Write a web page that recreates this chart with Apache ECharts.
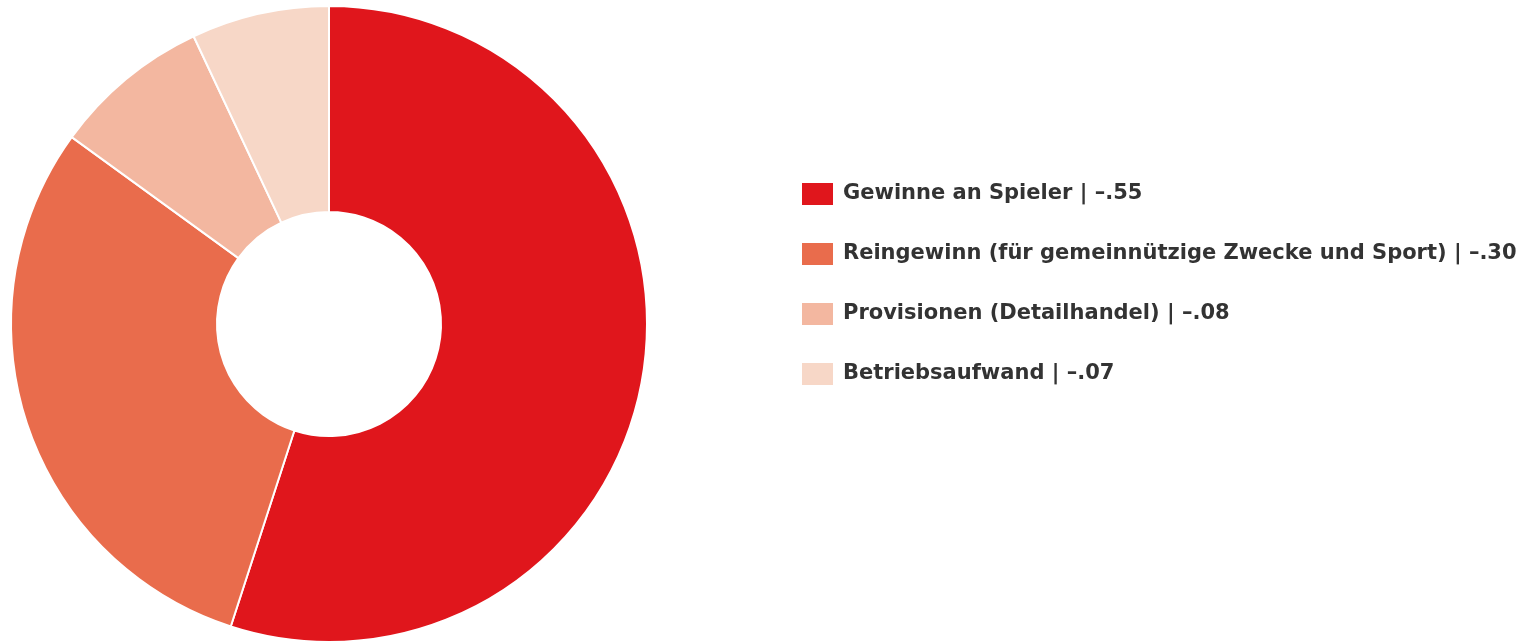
<!DOCTYPE html>
<html>
<head>
<meta charset="utf-8">
<script src="https://cdn.jsdelivr.net/npm/echarts@6/dist/echarts.min.js"></script>
<style>
  html, body { margin: 0; padding: 0; background: #fff; }
  #chart { width: 1538px; height: 643px; }
</style>
</head>
<body>
<div id="chart"></div>
<script>
// chart data
var names = ['Gewinne an Spieler', 'Reingewinn (für gemeinnützige Zwecke und Sport)', 'Provisionen (Detailhandel)', 'Betriebsaufwand'];
var values = [0.55, 0.30, 0.08, 0.07];
var valueLabels = ['–.55', '–.30', '–.08', '–.07'];
var colors = ['#e0161c', '#e96c4c', '#f3b7a0', '#f7d7c7'];

var pieData = [];
for (var i = 0; i < names.length; i++) {
    pieData.push({ name: names[i], value: values[i] });
}

var myChart = echarts.init(document.getElementById('chart'));
var option = {
    animation: false,
    color: colors,
    legend: {
        show: true,
        orient: 'vertical',
        left: 800,
        top: 181,
        padding: 0,
        icon: 'rect',
        itemWidth: 33,
        itemHeight: 24,
        itemGap: 34,
        selectedMode: false,
        data: names,
        formatter: function (name) {
            var idx = names.indexOf(name);
            return name + ' | ' + valueLabels[idx];
        },
        textStyle: {
            color: '#333',
            fontFamily: 'DejaVu Sans',
            fontWeight: 'bold',
            fontSize: 21,
            lineHeight: 24,
            padding: [0, 0, 0, 4]
        }
    },
    series: [
        {
            type: 'pie',
            center: [329, 324],
            radius: [112, 318],
            startAngle: 90,
            clockwise: true,
            label: { show: false },
            labelLine: { show: false },
            emphasis: { disabled: true },
            itemStyle: {
                borderColor: '#fff',
                borderWidth: 2
            },
            data: pieData
        }
    ]
};
myChart.setOption(option);
</script>
</body>
</html>
